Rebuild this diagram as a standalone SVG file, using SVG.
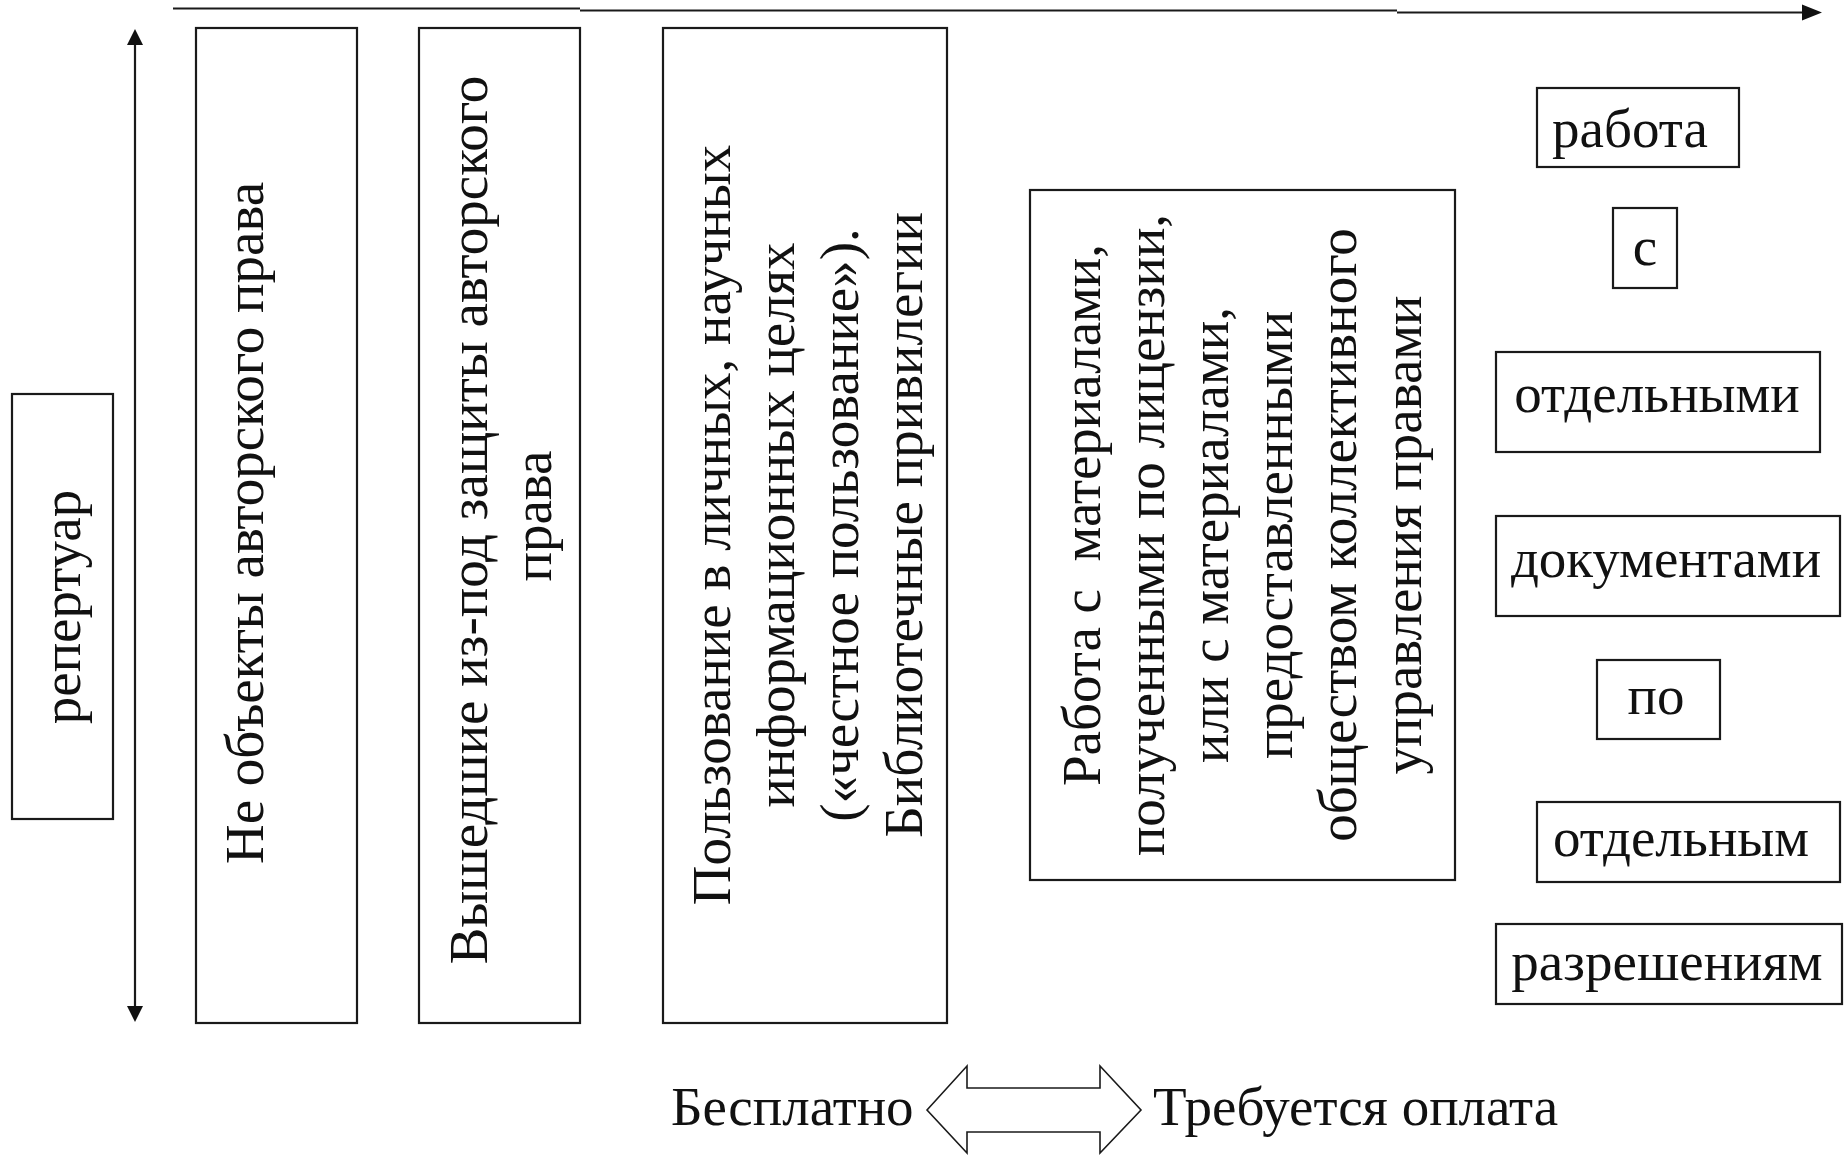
<svg xmlns="http://www.w3.org/2000/svg" width="1845" height="1158" viewBox="0 0 1845 1158" font-family="'Liberation Serif', 'Times New Roman', serif">
<style>
.box{fill:#fff;stroke:#1a1a1a;stroke-width:2.2}
text{font-family:'Liberation Serif','Times New Roman',serif;font-size:55px;fill:#111}
.v{text-anchor:middle}
.h{text-anchor:middle}
.ln{stroke:#1a1a1a;stroke-width:2.2;fill:none}
.head{fill:#111}
</style>
<rect width="1845" height="1158" fill="#fff"/>

<g id="connectors">
<path class="ln" d="M173,8.5 H580 M580,10.5 H1397 M1397,12.5 H1804"/>
<path class="head" d="M1822,12.5 L1802,4.5 L1802,20.5 Z"/>
<line class="ln" x1="135" y1="44" x2="135" y2="1007"/>
<path class="head" d="M135,29 L143,45 L127,45 Z"/>
<path class="head" d="M135,1022 L143,1006 L127,1006 Z"/>
<path d="M927,1110 L967,1066 L967,1088 L1100,1088 L1100,1066 L1141,1110 L1100,1153 L1100,1132 L967,1132 L967,1153 Z" fill="#fff" stroke="#1a1a1a" stroke-width="1.6"/>
</g>

<g id="repertuar">
<rect class="box" x="12" y="394" width="101" height="425"/>
<text class="v" transform="translate(80,607) rotate(-90)">репертуар</text>
</g>

<g id="box1">
<rect class="box" x="196" y="28" width="161" height="995"/>
<text class="v" transform="translate(263,523) rotate(-90)">Не объекты авторского права</text>
</g>

<g id="box2">
<rect class="box" x="419" y="28" width="161" height="995"/>
<text class="v" transform="translate(487,520) rotate(-90)">Вышедшие из-под защиты авторского</text>
<text class="v" transform="translate(551,516) rotate(-90)">права</text>
</g>

<g id="box3">
<rect class="box" x="663" y="28" width="284" height="995"/>
<text class="v" transform="translate(730,525) rotate(-90)">Пользование в личных, научных</text>
<text class="v" transform="translate(794,525) rotate(-90)">информационных целях</text>
<text class="v" transform="translate(858,525) rotate(-90)">(«честное пользование»).</text>
<text class="v" transform="translate(922,525) rotate(-90)">Библиотечные привилегии</text>
</g>

<g id="box4">
<rect class="box" x="1030" y="190" width="425" height="690"/>
<text class="v" transform="translate(1100,515) rotate(-90)" xml:space="preserve">Работа с  материалами,</text>
<text class="v" transform="translate(1164,535) rotate(-90)">полученными по лицензии,</text>
<text class="v" transform="translate(1228,535) rotate(-90)">или с материалами,</text>
<text class="v" transform="translate(1292,535) rotate(-90)">предоставленными</text>
<text class="v" transform="translate(1356,535) rotate(-90)">обществом коллективного</text>
<text class="v" transform="translate(1421,535) rotate(-90)">управления правами</text>
</g>

<g id="w1">
<rect class="box" x="1537" y="88" width="202" height="79"/>
<text class="h" x="1630" y="147">работа</text>
</g>
<g id="w2">
<rect class="box" x="1613" y="208" width="64" height="80"/>
<text class="h" x="1645" y="265">с</text>
</g>
<g id="w3">
<rect class="box" x="1496" y="352" width="324" height="100"/>
<text class="h" x="1657" y="412">отдельными</text>
</g>
<g id="w4">
<rect class="box" x="1496" y="516" width="344" height="100"/>
<text class="h" x="1666" y="577">документами</text>
</g>
<g id="w5">
<rect class="box" x="1597" y="660" width="123" height="79"/>
<text class="h" x="1656" y="714">по</text>
</g>
<g id="w6">
<rect class="box" x="1537" y="802" width="303" height="80"/>
<text class="h" x="1681" y="856">отдельным</text>
</g>
<g id="w7">
<rect class="box" x="1496" y="924" width="346" height="80"/>
<text class="h" x="1667" y="980">разрешениям</text>
</g>

<g id="legend">
<text x="671" y="1125">Бесплатно</text>
<text x="1153" y="1125">Требуется оплата</text>
</g>
</svg>
